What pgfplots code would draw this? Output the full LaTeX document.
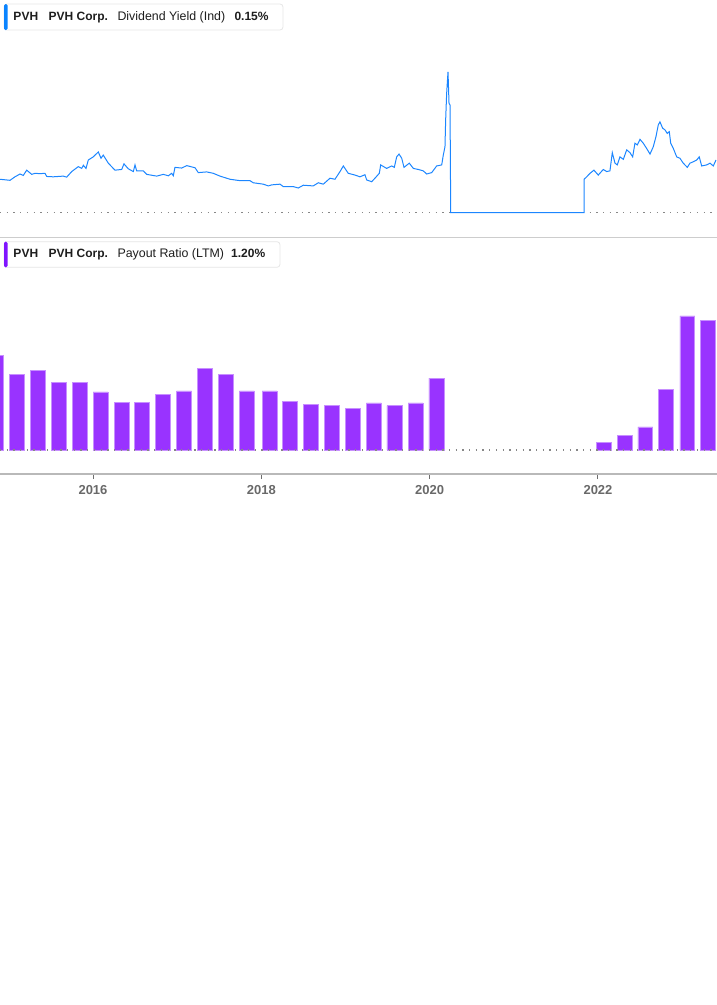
\documentclass[border=0pt]{standalone}
\usepackage{fontspec}
\setmainfont{Liberation Sans}
\usepackage{pgfplots}
\pgfplotsset{compat=1.18}
\definecolor{lineblue}{RGB}{28,134,255}
\definecolor{markblue}{RGB}{10,132,255}
\definecolor{barpurple}{RGB}{153,51,255}
\definecolor{markpurple}{RGB}{128,20,255}
\definecolor{dotgray}{RGB}{135,135,135}
\definecolor{sepgray}{RGB}{205,205,205}
\definecolor{axisgray}{RGB}{185,185,185}
\definecolor{tickgray}{RGB}{110,110,110}
\definecolor{labelgray}{RGB}{105,105,105}
\definecolor{legborder}{RGB}{230,230,230}
\definecolor{legtext}{RGB}{30,30,30}
\begin{document}
\begin{tikzpicture}
\path[use as bounding box] (0bp,0bp) rectangle (717bp,-1005bp);
% ---------- top panel: dividend yield ----------
\begin{axis}[at={(0bp,-220bp)}, anchor=south west, scale only axis,
  width=717bp, height=180bp,
  xmin=2014.895, xmax=2023.414, ymin=-0.0214, ymax=0.4929,
  hide axis, clip=false]
\draw[dotgray, line width=1.3bp, dash pattern=on 1.3bp off 5.4bp] (axis cs:2014.895,0) -- (axis cs:2023.414,0);
\addplot[lineblue, line width=1bp] coordinates {
(2014.895,0.095) (2015.014,0.092) (2015.073,0.102) (2015.133,0.110) (2015.172,0.106)
(2015.212,0.121) (2015.272,0.109) (2015.311,0.112) (2015.370,0.111) (2015.430,0.112)
(2015.450,0.103) (2015.528,0.102) (2015.647,0.104) (2015.687,0.101) (2015.747,0.117)
(2015.825,0.131) (2015.866,0.126) (2015.885,0.135) (2015.917,0.126) (2015.944,0.150)
(2016.003,0.159) (2016.063,0.173) (2016.095,0.155) (2016.122,0.164) (2016.182,0.141)
(2016.261,0.121) (2016.341,0.123) (2016.368,0.139) (2016.419,0.125) (2016.479,0.117)
(2016.499,0.136) (2016.519,0.119) (2016.598,0.119) (2016.638,0.109) (2016.757,0.104)
(2016.835,0.109) (2016.895,0.105) (2016.935,0.112) (2016.954,0.105) (2016.974,0.129)
(2017.054,0.127) (2017.113,0.134) (2017.212,0.128) (2017.251,0.114) (2017.351,0.116)
(2017.429,0.112) (2017.509,0.104) (2017.628,0.095) (2017.746,0.091) (2017.865,0.091)
(2017.904,0.085) (2018.023,0.081) (2018.083,0.076) (2018.123,0.079) (2018.222,0.081)
(2018.261,0.074) (2018.380,0.074) (2018.439,0.070) (2018.499,0.078) (2018.617,0.076)
(2018.677,0.085) (2018.736,0.081) (2018.816,0.098) (2018.875,0.095) (2018.935,0.117)
(2018.974,0.133) (2019.033,0.112) (2019.113,0.107) (2019.172,0.102) (2019.231,0.108)
(2019.252,0.093) (2019.311,0.088) (2019.350,0.098) (2019.402,0.112) (2019.418,0.136)
(2019.489,0.126) (2019.549,0.133) (2019.580,0.129) (2019.608,0.159) (2019.636,0.167)
(2019.668,0.155) (2019.695,0.129) (2019.758,0.141) (2019.806,0.126) (2019.865,0.123)
(2019.924,0.119) (2019.965,0.110) (2020.024,0.114) (2020.083,0.133) (2020.143,0.136)
(2020.162,0.164) (2020.182,0.188) (2020.190,0.264) (2020.202,0.341) (2020.218,0.402)
(2020.230,0.312) (2020.242,0.307) (2020.250,0) (2021.834,0) (2021.835,0.095)
(2021.866,0.102) (2021.905,0.112) (2021.952,0.121) (2022.003,0.107) (2022.063,0.123)
(2022.103,0.117) (2022.142,0.119) (2022.170,0.171) (2022.202,0.141) (2022.229,0.136)
(2022.261,0.159) (2022.301,0.152) (2022.341,0.179) (2022.380,0.171) (2022.412,0.159)
(2022.439,0.198) (2022.467,0.193) (2022.499,0.209) (2022.538,0.198) (2022.578,0.183)
(2022.618,0.167) (2022.657,0.188) (2022.689,0.217) (2022.716,0.250) (2022.736,0.259)
(2022.768,0.241) (2022.796,0.236) (2022.823,0.226) (2022.847,0.231) (2022.864,0.198)
(2022.895,0.183) (2022.935,0.159) (2022.974,0.155) (2023.013,0.141) (2023.061,0.129)
(2023.093,0.141) (2023.132,0.145) (2023.173,0.150) (2023.203,0.159) (2023.232,0.133)
(2023.291,0.136) (2023.331,0.141) (2023.370,0.133) (2023.402,0.150)
};
\end{axis}
% legend box top
\draw[legborder, fill=white, rounded corners=3bp, line width=0.8bp] (4bp,-4bp) rectangle (283bp,-30bp);
\fill[markblue, rounded corners=1.5bp] (4bp,-4bp) rectangle (7.5bp,-30bp);
\node[anchor=base west, inner sep=0pt, text=legtext, font=\fontsize{12bp}{14bp}\selectfont\bfseries] at (13.3bp,-20.7bp) {PVH};
\node[anchor=base west, inner sep=0pt, text=legtext, font=\fontsize{12bp}{14bp}\selectfont\bfseries] at (48.5bp,-20.7bp) {PVH Corp.};
\node[anchor=base west, inner sep=0pt, text=legtext, font=\fontsize{12.4bp}{14bp}\selectfont] at (117.3bp,-20.7bp) {Dividend Yield (Ind)};
\node[anchor=base west, inner sep=0pt, text=legtext, font=\fontsize{12bp}{14bp}\selectfont\bfseries] at (234.3bp,-20.7bp) {0.15\%};
% separator
\draw[sepgray, line width=1bp] (0bp,-237.5bp) -- (717bp,-237.5bp);
% ---------- bottom panel: payout ratio ----------
\begin{axis}[at={(0bp,-474bp)}, anchor=south west, scale only axis,
  width=717bp, height=194bp,
  xmin=2014.895, xmax=2023.414, ymin=-0.2220, ymax=1.5728,
  axis x line=bottom, axis y line=none,
  x axis line style={-, draw=axisgray, line width=2bp},
  xtick={2016,2018,2020,2022},
  xticklabels={2016,2018,2020,2022},
  ytick=\empty,
  tick align=outside, major tick length=5bp,
  tick style={draw=tickgray, line width=1bp},
  xticklabel style={font=\fontsize{13bp}{15bp}\selectfont\bfseries, text=labelgray, inner sep=0pt, yshift=-6bp},
  clip=false]
\addplot[ybar, bar width=0.178, fill=barpurple, draw=barpurple!55!white, line width=0.6bp] coordinates {
(2014.842,0.876) (2015.095,0.700) (2015.344,0.740) (2015.590,0.623) (2015.840,0.629)
(2016.089,0.537) (2016.339,0.444) (2016.584,0.444) (2016.834,0.515) (2017.083,0.546)
(2017.328,0.756) (2017.578,0.703) (2017.827,0.546) (2018.097,0.546) (2018.343,0.453)
(2018.592,0.423) (2018.837,0.414) (2019.087,0.386) (2019.336,0.435) (2019.582,0.410)
(2019.832,0.435) (2020.081,0.666)
(2022.068,0.071) (2022.317,0.136) (2022.562,0.213) (2022.811,0.564) (2023.061,1.240)
(2023.309,1.200)
};
\draw[dotgray, line width=1.3bp, dash pattern=on 1.3bp off 5.4bp] (axis cs:2014.895,0) -- (axis cs:2023.414,0);
\end{axis}
% legend box bottom
\draw[legborder, fill=white, rounded corners=3bp, line width=0.8bp] (4bp,-241.7bp) rectangle (280bp,-267.3bp);
\fill[markpurple, rounded corners=1.5bp] (4bp,-241.7bp) rectangle (7.5bp,-267.3bp);
\node[anchor=base west, inner sep=0pt, text=legtext, font=\fontsize{12bp}{14bp}\selectfont\bfseries] at (13.3bp,-257.7bp) {PVH};
\node[anchor=base west, inner sep=0pt, text=legtext, font=\fontsize{12bp}{14bp}\selectfont\bfseries] at (48.5bp,-257.7bp) {PVH Corp.};
\node[anchor=base west, inner sep=0pt, text=legtext, font=\fontsize{12.4bp}{14bp}\selectfont] at (117.3bp,-257.7bp) {Payout Ratio (LTM)};
\node[anchor=base west, inner sep=0pt, text=legtext, font=\fontsize{12bp}{14bp}\selectfont\bfseries] at (231bp,-257.7bp) {1.20\%};
\end{tikzpicture}
\end{document}
